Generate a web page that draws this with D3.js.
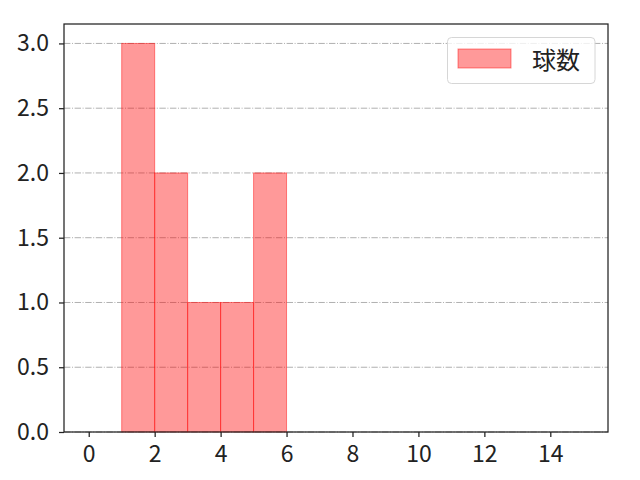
<!DOCTYPE html>
<html><head><meta charset="utf-8">
<script src="https://cdn.jsdelivr.net/npm/d3@7"></script>
<style>body{margin:0;background:#fff;}svg{display:block;}</style>
</head><body>
<svg id="c" width="640" height="480"></svg>
<script>
const binEdges = [1, 2, 3, 4, 5, 6];
const counts = [3, 2, 1, 1, 2];
const xTicks = [0, 2, 4, 6, 8, 10, 12, 14];
const yTicks = [0.0, 0.5, 1.0, 1.5, 2.0, 2.5, 3.0];
const seriesName = "球数";

const svg = d3.select("#c");
const L = 64, R = 608, T = 24, B = 432;
const font = "'Noto Sans CJK JP', 'Noto Sans', sans-serif";
const x = d3.scaleLinear().domain([-0.75, 15.75]).range([L, R]);
const y = d3.scaleLinear().domain([0, 3.15]).range([B, T]);

// grid
svg.append("g").selectAll("line").data(yTicks).join("line")
  .attr("x1", L).attr("x2", R)
  .attr("y1", d => y(d)).attr("y2", d => y(d))
  .attr("stroke", "#b0b0b0").attr("stroke-width", 1)
  .attr("stroke-dasharray", "6.4,1.6,1,1.6");

// bars
const bins = counts.map((c, i) => ({x0: binEdges[i], x1: binEdges[i+1], c}));
svg.append("g").selectAll("rect").data(bins).join("rect")
  .attr("x", d => x(d.x0)).attr("width", d => x(d.x1) - x(d.x0))
  .attr("y", d => y(d.c)).attr("height", d => y(0) - y(d.c))
  .attr("fill", "rgba(255,0,0,0.4)")
  .attr("stroke", "rgba(255,0,0,0.45)").attr("stroke-width", 1);

// axes
const xAxis = svg.append("g").attr("transform", `translate(0,${B})`)
  .call(d3.axisBottom(x).tickValues(xTicks).tickFormat(d3.format("d")).tickSize(5).tickPadding(9));
const yAxis = svg.append("g").attr("transform", `translate(${L},0)`)
  .call(d3.axisLeft(y).tickValues(yTicks).tickFormat(d3.format(".1f")).tickSize(5).tickPadding(10));
[xAxis, yAxis].forEach(a => {
  a.select(".domain").remove();
  a.selectAll("line").attr("stroke", "#222").attr("stroke-width", 1.25);
  a.selectAll("text").attr("font-family", font).attr("font-size", 23).attr("fill", "#222");
});

// frame
svg.append("rect").attr("x", L).attr("y", T).attr("width", R - L).attr("height", B - T)
  .attr("fill", "none").attr("stroke", "#222").attr("stroke-width", 1.25);

// legend
const lg = svg.append("g");
lg.append("rect").attr("x", 447.5).attr("y", 37.5).attr("width", 147.5).attr("height", 46)
  .attr("rx", 4).attr("fill", "rgba(255,255,255,0.8)").attr("stroke", "#d6d6d6").attr("stroke-width", 1);
lg.append("rect").attr("x", 458).attr("y", 49).attr("width", 53).attr("height", 19)
  .attr("fill", "rgba(255,0,0,0.4)").attr("stroke", "rgba(255,0,0,0.45)").attr("stroke-width", 1);
lg.append("text").attr("x", 532).attr("y", 58).attr("dominant-baseline", "central")
  .attr("font-family", font).attr("font-size", 24).attr("fill", "#222").text(seriesName);
</script>
</body></html>
